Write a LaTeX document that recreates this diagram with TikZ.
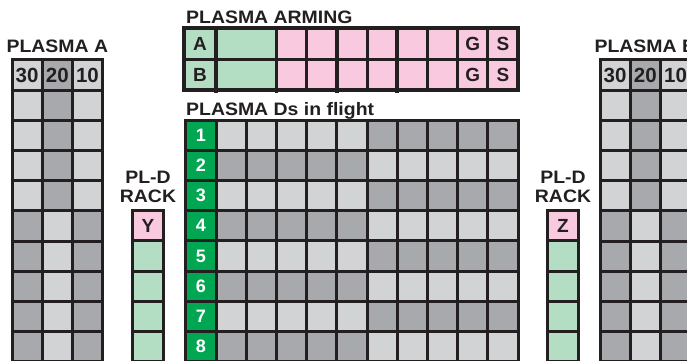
\documentclass[tikz,border=0pt]{standalone}
\usepackage{fontspec}
\setmainfont{Liberation Sans}
\newfontfamily\titlefont[FakeStretch=1.08]{Liberation Sans}
\usepackage{tikz}
\usetikzlibrary{positioning}
\definecolor{InkDark}{HTML}{231F20}
\definecolor{GreyLight}{HTML}{D1D3D4}
\definecolor{GreyDark}{HTML}{A7A9AC}
\definecolor{PinkLight}{HTML}{F8C9DF}
\definecolor{MintLight}{HTML}{B4DEC3}
\definecolor{GreenDark}{HTML}{00A651}

\begin{document}
\begin{tikzpicture}[
  x=1pt, y=-1pt,
  cell/.style={rectangle, draw=InkDark, line width=3pt, minimum width=30.2pt, minimum height=30.2pt, inner sep=0pt, outer sep=0pt, text=InkDark, font=\fontsize{19}{19}\selectfont\bfseries},
  hdr/.style={font=\fontsize{20.5}{20.5}\selectfont\bfseries},
  numcell/.style={cell, fill=GreenDark, text=white, font=\fontsize{18}{18}\selectfont\bfseries},
  armcell/.style={cell, minimum height=31pt, fill=PinkLight},
  mint/.style={fill=MintLight},
  title/.style={inner sep=0pt, text=InkDark, align=center, font=\titlefont\fontsize{18}{19.5}\selectfont\bfseries},
  divider/.style={draw=InkDark, line width=3.8pt, shorten <=-2.5pt, shorten >=-2.5pt}
]
  \useasboundingbox (0,0) rectangle (687,360);

  % side grids, plasma A and plasma B
  \foreach \g/\gx in {a/12,b/600} {
    \foreach \c/\v in {1/30,2/20,3/10} {
      \ifnum\c=2 \def\shade{GreyDark}\else\def\shade{GreyLight}\fi
      \node[cell, hdr, fill=\shade] (\g-0-\c) at ({\gx+30.2*(\c-0.5)},75) {\v};
      \foreach \r in {1,...,9} {
        \pgfmathtruncatemacro\isdark{mod((\c==2)+(\r>4),2)}
        \ifnum\isdark=1 \def\shade{GreyDark}\else\def\shade{GreyLight}\fi
        \node[cell, fill=\shade] (\g-\r-\c) at ({\gx+30.2*(\c-0.5)},{90+30.2*(\r-0.5)}) {};
      }
    }
  }
  \node[title, above=6.6pt of a-0-2] (titleA) {PLASMA A};
  \node[title, above=6.6pt of b-0-2] (titleB) {PLASMA B};

  % arming grid
  \node[title, anchor=base west] (titleArm) at (186,23.8) {PLASMA ARMING};
  \foreach \r/\lab in {1/A,2/B} {
    \pgfmathsetmacro\ry{28+31*(\r-0.5)}
    \node[armcell, mint, minimum width=32pt] (arm-\r-L) at (200,\ry) {\lab};
    \node[armcell, mint, minimum width=60.4pt] (arm-\r-M) at (246.2,\ry) {};
    \foreach \k in {1,...,6}
      \node[armcell] (arm-\r-\k) at ({276.4+30.2*(\k-0.5)},\ry) {};
    \node[armcell] (arm-\r-7) at (472.7,\ry) {G};
    \node[armcell] (arm-\r-8) at (502.9,\ry) {S};
  }
  \foreach \k in {L,M,2,4}
    \draw[divider] (arm-1-\k.north east) -- (arm-2-\k.south east);
  \draw[InkDark, line width=4.2pt] (arm-1-L.north west) rectangle (arm-2-8.south east);

  % plasma Ds in flight
  \node[title, anchor=base west] (titleDs) at (186,115) {PLASMA Ds in flight};
  \foreach \r in {1,...,8} {
    \node[numcell] (d-\r-0) at (200.9,{120+30.2*(\r-0.5)}) {\r};
    \foreach \c in {1,...,10} {
      \pgfmathtruncatemacro\isdark{mod((\c>5)+(mod(\r,2)==0),2)}
      \ifnum\isdark=1 \def\shade{GreyDark}\else\def\shade{GreyLight}\fi
      \node[cell, fill=\shade] (d-\r-\c) at ({216+30.2*(\c-0.5)},{120+30.2*(\r-0.5)}) {};
    }
  }

  % PL-D racks
  \foreach \rk/\rx/\lab in {y/148/Y,z/563/Z} {
    \node[cell, fill=PinkLight] (\rk-4) at (\rx,{120+30.2*3.5}) {\lab};
    \foreach \r in {5,...,8}
      \node[cell, mint] (\rk-\r) at (\rx,{120+30.2*(\r-0.5)}) {};
    \node[title, above=7.6pt of \rk-4] (\rk-lbl) {PL-D\\RACK};
  }
\end{tikzpicture}
\end{document}
